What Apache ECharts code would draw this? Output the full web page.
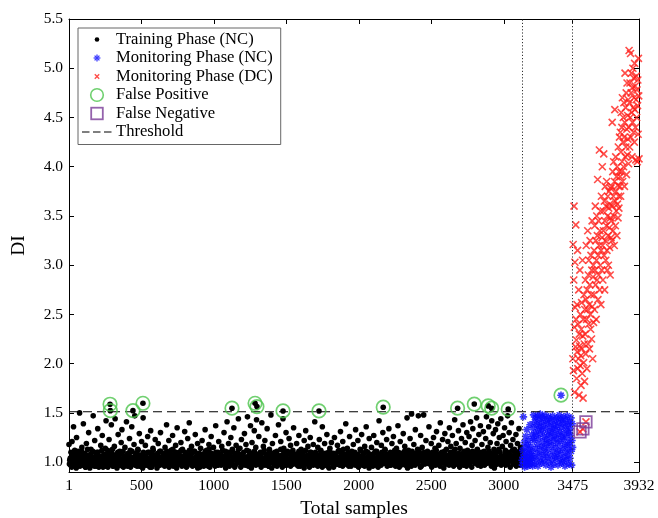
<!DOCTYPE html>
<html><head><meta charset="utf-8">
<script src="https://cdn.jsdelivr.net/npm/echarts@6.0.0/dist/echarts.min.js"></script>
<style>html,body{margin:0;padding:0;background:#fff}#c{width:658px;height:518px}</style>
</head><body><div id="c"></div>
<script>
// ---- axis ticks ----
const xTickValues = [1, 500, 1000, 1500, 2000, 2500, 3000, 3475, 3932];
const yTickValues = [1.0, 1.5, 2.0, 2.5, 3.0, 3.5, 4.0, 4.5, 5.0, 5.5];
const threshold = 1.512;
const phaseBoundaries = [3125, 3475];
// sample ranges of each phase (values below are estimated, sub-sampled readings)
const trainRange = [1, 3125];
const trainCoreRange = [4, 3122];
const monNcRange = [3126, 3474];
const monDcRange = [3476, 3932];

// Training phase (NC): scattered readings
const trainDI = [
1.18,1.02,0.97,1.05,1.21,1.00,1.36,0.99,1.08,1.03,1.25,0.96,1.11,1.04,1.50,1.01,0.98,1.15,1.06,1.39,1.00,1.09,0.95,1.19,1.03,
1.07,1.30,0.99,1.02,1.13,0.97,1.05,1.47,1.01,1.22,1.04,0.96,1.10,1.34,1.00,1.06,0.98,1.17,1.03,1.27,0.95,1.08,1.01,1.14,1.42,
1.02,1.12,0.99,1.23,1.05,1.00,1.38,1.09,0.96,1.03,1.16,1.44,1.01,1.07,0.97,1.28,1.04,1.11,0.99,1.20,1.33,1.02,0.95,1.06,1.15,
1.00,1.41,1.08,1.03,0.97,1.24,1.12,1.01,1.36,1.05,0.98,1.18,1.47,1.02,1.09,0.96,1.13,1.04,1.29,1.00,1.07,1.21,0.99,1.45,1.03,
1.06,1.17,1.01,0.97,1.26,1.04,1.10,0.95,1.32,1.02,1.08,1.14,0.99,1.03,1.23,1.00,1.06,0.96,1.19,1.05,1.11,1.30,1.01,0.98,1.09,
1.04,1.00,1.15,0.97,1.38,1.07,1.02,1.22,0.99,1.05,1.12,1.01,1.27,0.96,1.08,1.03,1.17,1.00,1.35,1.06,0.98,1.10,1.04,1.20,1.02,
1.13,0.99,1.05,1.31,1.01,1.08,0.96,1.24,1.03,1.40,1.00,1.07,1.16,0.98,1.04,1.11,1.02,1.28,0.97,1.06,1.19,1.01,1.09,0.95,1.14,
1.03,1.22,1.00,1.07,0.98,1.33,1.05,1.12,1.01,0.96,1.18,1.04,1.09,1.26,0.99,1.02,1.15,1.06,1.00,1.37,1.03,0.97,1.10,1.21,1.04,
1.01,1.08,1.16,0.98,1.05,1.30,1.02,1.11,0.96,1.41,1.04,1.19,1.00,1.07,1.25,0.99,1.13,1.03,1.35,1.06,0.97,1.17,1.02,1.09,1.44,
1.05,1.14,1.00,1.23,0.97,1.08,1.03,1.29,1.01,1.18,0.99,1.46,1.06,1.11,1.02,1.37,0.96,1.20,1.04,1.09,1.32,1.00,1.15,1.43,1.07,
1.02,1.26,0.98,1.10,1.05,1.40,1.01,1.16,1.03,1.22,0.99,1.08,1.34,1.04,0.96,1.13,1.06,1.48,1.00,1.19,1.02,1.09,0.97,1.27,1.05,
1.11,1.01,1.38,1.04,0.98,1.21,1.07,1.02,1.44,1.14,1.00,1.06,1.30,0.97,1.09,1.03,1.24,1.01,1.17,0.99,1.05,1.12,1.35,1.02,1.08,
1.00,1.19,1.04,0.96,1.27,1.06,1.01,1.13,1.03,1.09,0.98,1.22,1.05,1.32,1.00,1.07,1.16,0.97,1.02,1.25,1.10,1.04,0.99,1.18,1.06,
1.41,1.02,1.08,0.97,1.15,1.04,1.23,1.00,1.11,1.05,1.36,0.98,1.07,1.19,1.02,1.03,1.28,0.96,1.10,1.01,1.14,1.06,1.20,0.99,1.04,
1.09,1.25,1.01,1.05,0.98,1.17,1.03,1.12,1.00,1.31,1.06,0.97,1.21,1.04,1.08,1.02,1.39,0.99,1.14,1.05,1.01,1.26,1.07,0.96,1.11,
1.03,1.18,1.00,1.08,1.33,1.04,0.98,1.22,1.06,1.01,1.13,1.02,1.28,0.97,1.09,1.05,1.16,1.00,1.36,1.03,1.10,0.99,1.24,1.07,1.02,
1.15,0.98,1.05,1.27,1.01,1.11,1.04,1.20,0.96,1.08,1.42,1.03,1.00,1.17,1.06,1.30,1.02,0.99,1.12,1.07,1.23,1.01,1.04,1.34,0.97,
1.10,1.05,1.19,1.00,1.26,1.03,1.08,0.98,1.14,1.02,1.37,1.06,1.01,1.21,0.97,1.09,1.04,1.29,1.00,1.16,1.07,1.03,1.45,0.99,1.12,
1.05,1.24,1.01,1.49,1.08,0.98,1.18,1.03,1.33,1.06,1.00,1.13,1.47,1.02,1.09,1.27,0.96,1.15,1.04,1.48,1.07,1.01,1.22,0.99,1.11,
1.03,1.36,1.06,1.00,1.19,1.09,0.97,1.25,1.04,1.14,1.01,1.31,1.08,0.98,1.17,1.05,1.40,1.02,1.10,1.23,0.99,1.06,1.29,1.03,1.13,
1.00,1.21,1.07,1.35,1.02,1.16,0.98,1.27,1.05,1.11,1.43,1.03,1.19,1.01,1.08,1.32,0.97,1.14,1.06,1.24,1.02,1.38,1.10,1.00,1.20,
1.04,1.30,1.12,0.99,1.26,1.07,1.41,1.02,1.17,1.34,1.05,1.09,1.22,1.00,1.45,1.13,1.03,1.28,1.08,1.37,0.98,1.18,1.06,1.31,1.11,
1.02,1.24,1.46,1.07,1.15,1.36,1.00,1.20,1.09,1.42,1.04,1.29,1.13,0.97,1.33,1.06,1.19,1.39,1.01,1.25,1.10,1.44,1.05,1.16,1.27,
1.03,1.35,1.12,1.21,1.00,1.47,1.08,1.30,1.04,1.17,1.40,1.01,1.23,1.06,1.13,0.99,1.28,1.09,1.19,1.02,1.34,1.07,1.15,1.04,1.11
];

// Training phase (NC): dense core band readings
const trainCoreDI = [
0.98,1.04,1.10,0.95,1.01,1.07,0.97,1.12,1.03,0.94,1.06,0.99,1.09,1.02,0.96,1.05,1.11,1.00,0.97,1.08,1.03,0.95,1.06,1.01,1.13,
0.99,1.05,0.94,1.08,1.02,0.97,1.11,1.04,0.96,1.00,1.07,0.98,1.03,1.10,0.95,1.06,1.01,0.99,1.12,1.04,0.97,1.02,1.08,0.96,1.05,
1.01,0.95,1.09,1.03,0.98,1.06,1.00,1.13,0.96,1.04,0.99,1.07,1.02,0.94,1.10,1.05,0.97,1.01,1.08,1.03,0.96,1.11,1.00,1.06,0.98,
1.04,1.00,0.96,1.09,1.02,1.06,0.95,1.03,1.11,0.98,1.05,1.01,0.97,1.08,1.04,0.99,1.12,1.02,0.96,1.07,1.00,1.05,0.94,1.10,1.03,
0.97,1.06,1.02,0.99,1.10,1.04,0.96,1.01,1.08,0.95,1.05,1.12,1.00,0.98,1.07,1.03,0.94,1.09,1.01,1.05,0.97,1.11,1.02,0.99,1.06,
1.02,0.96,1.07,1.00,1.11,0.98,1.04,0.95,1.09,1.03,0.99,1.06,1.13,1.01,0.97,1.05,1.10,0.94,1.02,1.08,0.98,1.04,1.00,1.12,0.96,
1.06,1.01,0.97,1.10,1.03,0.95,1.07,1.00,1.05,1.12,0.98,1.02,1.09,0.96,1.04,1.00,1.11,0.97,1.06,1.03,0.94,1.08,1.01,0.99,1.05,
0.99,1.08,1.03,0.96,1.05,1.11,1.00,0.97,1.07,1.02,1.13,0.95,1.04,1.09,0.98,1.01,1.06,1.03,0.96,1.10,1.00,1.05,0.97,1.08,1.02,
1.05,0.97,1.02,1.12,0.99,1.06,1.03,0.94,1.08,1.00,1.04,1.10,0.96,1.07,1.01,0.98,1.11,1.03,1.05,0.95,1.09,1.02,0.99,1.06,1.13,
1.00,1.04,0.95,1.08,1.02,0.98,1.10,1.05,0.97,1.03,1.12,1.00,0.96,1.06,1.09,1.01,0.94,1.07,1.04,0.99,1.11,1.02,0.97,1.05,1.08,
1.03,0.98,1.06,1.01,0.95,1.09,1.04,1.00,1.12,0.97,1.05,1.02,0.99,1.08,0.96,1.11,1.03,1.06,0.94,1.01,1.07,0.98,1.10,1.04,1.00,
0.96,1.07,1.01,1.04,0.98,1.13,1.02,0.95,1.06,1.09,1.00,0.97,1.05,1.03,1.11,0.99,1.08,1.02,0.96,1.04,1.10,1.01,0.98,1.07,1.03,
1.08,1.00,0.97,1.05,1.11,1.02,0.96,1.09,1.04,0.99,1.06,0.94,1.03,1.12,1.01,0.98,1.07,1.05,0.95,1.10,1.02,1.00,1.06,0.97,1.04,
1.01,1.10,0.99,1.03,0.96,1.07,1.05,0.98,1.12,1.02,0.95,1.08,1.00,1.04,1.09,0.97,1.03,1.06,1.01,0.94,1.11,1.05,0.99,1.02,1.07,
0.95,1.03,1.08,1.00,1.06,0.98,1.11,1.02,0.97,1.05,1.09,1.01,0.96,1.13,1.04,1.00,0.98,1.07,1.03,1.10,0.96,1.05,1.01,1.08,0.99,
1.07,0.99,1.02,1.10,0.97,1.04,1.01,1.08,0.95,1.06,1.03,1.12,0.98,1.00,1.05,1.09,0.96,1.02,1.11,1.04,0.97,1.06,0.94,1.03,1.08,
1.02,1.06,0.96,1.00,1.09,1.03,0.98,1.11,1.05,0.95,1.07,1.01,1.04,0.97,1.10,1.02,1.06,0.99,1.13,1.00,1.04,0.96,1.08,1.03,0.98,
1.04,0.97,1.09,1.02,1.05,0.99,1.12,0.96,1.03,1.07,1.00,1.10,0.95,1.06,1.02,0.98,1.08,1.04,1.01,1.11,0.97,1.05,1.03,0.94,1.09,
0.98,1.03,1.07,0.96,1.11,1.01,1.05,1.00,0.97,1.09,1.04,0.99,1.06,1.12,1.02,0.95,1.08,1.03,1.00,1.05,1.10,0.98,1.04,1.07,1.01,
1.05,1.01,0.98,1.08,1.03,0.95,1.10,1.06,1.00,1.04,0.97,1.12,1.02,1.07,0.99,1.05,0.96,1.09,1.03,1.01,1.06,0.94,1.11,1.02,0.98,
1.00,1.07,1.03,0.97,1.05,1.10,0.99,1.02,1.08,0.96,1.04,1.13,1.01,0.98,1.06,1.03,1.09,0.95,1.05,1.00,1.07,1.02,0.97,1.11,1.04,
1.06,0.96,1.04,1.01,1.09,0.98,1.03,1.07,0.95,1.11,1.02,1.05,0.99,1.08,1.00,1.12,0.97,1.04,1.06,1.01,0.96,1.10,1.03,0.98,1.05,
0.97,1.09,1.02,1.05,0.99,1.04,1.11,1.00,1.06,0.96,1.03,1.08,1.01,0.94,1.07,1.10,1.02,0.98,1.05,1.13,1.00,1.04,0.97,1.06,1.02,
1.03,1.00,1.08,0.97,1.04,1.06,0.99,1.10,1.02,0.95,1.07,1.03,1.12,0.98,1.05,1.01,1.09,0.96,1.04,1.00,1.06,1.11,0.97,1.03,1.07
];

// Monitoring phase (NC)
const monNcDI = [
1.02,0.97,1.12,1.05,1.46,0.99,1.20,1.08,0.95,1.15,1.03,1.26,1.00,1.10,0.98,1.33,1.06,1.18,0.96,1.04,1.22,1.01,1.13,0.97,1.09,1.38,1.02,1.16,0.99,1.07,1.28,1.04,1.11,0.96,1.24,
1.35,1.48,1.05,1.22,1.41,0.98,1.30,1.14,1.45,1.02,1.27,1.38,1.09,1.47,1.18,0.96,1.33,1.24,1.43,1.06,1.36,1.12,1.49,1.01,1.29,
1.40,1.16,0.99,1.32,1.46,1.21,1.08,1.37,1.44,1.03,1.26,1.15,1.48,1.10,1.34,0.97,1.23,1.42,1.19,1.05,1.39,1.28,1.13,1.46,1.00,
1.31,1.20,1.44,1.07,1.36,1.25,0.95,1.41,1.17,1.30,1.02,1.47,1.11,1.34,1.22,0.98,1.38,1.27,1.06,1.43,1.15,1.33,1.04,1.24,1.45,
1.09,1.37,1.19,0.97,1.40,1.28,1.12,1.48,1.03,1.31,1.21,1.44,1.08,1.35,0.99,1.26,1.42,1.14,1.01,1.39,1.23,1.46,1.05,1.29,1.17,
0.96,1.36,1.10,1.43,1.25,1.02,1.32,1.47,1.18,1.07,1.38,1.13,0.98,1.30,1.41,1.20,1.04,1.34,1.27,1.45,1.11,0.97,1.22,1.39,1.15
];

// Monitoring phase (DC)
const monDcDI = [
2.05,3.21,1.93,2.85,3.60,2.37,1.71,3.03,2.57,2.17,3.41,2.45,
2.24,1.85,2.60,2.12,3.15,1.95,2.40,2.05,2.75,1.68,2.30,2.18,2.95,1.98,2.50,2.08,1.78,2.35,2.62,2.15,1.90,3.05,2.28,1.65,2.45,2.01,2.70,2.20,1.82,2.55,
2.30,2.85,2.10,2.65,3.20,2.45,1.95,2.75,2.55,3.35,2.20,2.90,2.40,3.05,2.60,2.15,2.80,3.25,2.50,2.35,3.10,2.70,2.25,2.95,3.45,2.58,2.05,2.88,3.00,2.42,
2.70,3.15,2.55,3.40,2.95,3.60,2.80,3.25,2.45,3.05,3.50,2.85,3.30,3.87,2.65,3.10,3.45,2.90,3.20,4.17,2.75,3.35,3.00,3.55,2.60,3.15,3.70,2.95,3.28,4.00,
3.20,2.85,3.55,3.35,4.13,3.10,3.65,2.75,3.45,3.80,3.25,3.05,3.60,3.40,3.85,3.15,2.95,3.50,3.70,3.30,3.00,3.58,3.75,3.38,3.18,3.62,2.90,3.48,3.78,3.28,
3.45,3.80,3.25,4.45,3.60,3.95,3.35,3.70,4.05,3.50,3.20,3.85,4.58,3.65,3.40,4.10,3.75,3.55,3.90,3.30,4.00,3.62,3.81,3.48,4.20,3.70,3.58,3.95,4.30,3.80,
3.90,4.35,3.70,4.15,4.55,3.95,4.40,4.05,4.70,3.85,4.25,4.50,4.00,4.65,4.30,3.80,4.45,4.95,4.10,4.60,4.20,4.75,3.92,4.38,4.85,4.12,4.52,4.28,4.68,4.03,
4.40,5.18,4.65,4.20,4.85,4.50,5.15,4.30,4.75,4.95,4.55,4.10,4.80,4.45,5.00,4.60,4.35,4.90,4.70,4.25,5.05,4.58,4.82,4.40,4.07,4.68,4.92,4.50,4.78,4.05,4.62,4.88,4.33,5.10,4.72,4.08
];

// False positives (training NC points above threshold) and one in monitoring NC
const fpTrainX = [284, 286, 442, 511, 1125, 1284, 1297, 1477, 1725, 2168, 2681, 2796, 2892, 2916, 3030];
const fpTrainY = [1.588, 1.523, 1.523, 1.598, 1.548, 1.598, 1.564, 1.52, 1.52, 1.558, 1.548, 1.59, 1.571, 1.548, 1.538];
const fpMonX = [3394];
const fpMonY = [1.68];
// False negatives (DC points below threshold)
const fnX = [3525, 3545, 3566];
const fnY = [1.307, 1.338, 1.409];

// ---------- build ----------
function spread(vals, range) {
  const n = vals.length;
  return vals.map((v, i) => [range[0] + i * (range[1] - range[0]) / (n - 1), v]);
}
function pairs(xs, ys) { return xs.map((x, i) => [x, ys[i]]); }

const trainData = spread(trainCoreDI, trainCoreRange).concat(spread(trainDI, trainRange), pairs(fpTrainX, fpTrainY));
const monNcData = spread(monNcDI, monNcRange).concat(pairs(fpMonX, fpMonY));
const monDcData = spread(monDcDI, monDcRange).concat(pairs(fnX, fnY));
const fpData = pairs(fpTrainX, fpTrainY).concat(pairs(fpMonX, fpMonY));
const fnData = pairs(fnX, fnY);

const FONT = 'Liberation Serif';
const BLUE = '#0a0aff', RED = '#ff1f1a', GREEN = '#4cc44c', PURPLE = '#7a3b98';

function svgIcon(inner) {
  return 'image://data:image/svg+xml;charset=utf-8,' + encodeURIComponent(
    "<svg xmlns='http://www.w3.org/2000/svg' width='30' height='16' viewBox='0 0 30 16'>" + inner + "</svg>");
}
const icons = {
  train: svgIcon("<circle cx='15' cy='8' r='2.3' fill='#000'/>"),
  monNc: svgIcon("<g stroke='" + BLUE + "' stroke-width='1.3'><line x1='15' y1='4.6' x2='15' y2='11.4'/><line x1='11.6' y1='8' x2='18.4' y2='8'/><line x1='12.6' y1='5.6' x2='17.4' y2='10.4'/><line x1='17.4' y1='5.6' x2='12.6' y2='10.4'/></g>"),
  monDc: svgIcon("<g stroke='" + RED + "' stroke-width='1.3'><line x1='12.8' y1='5.8' x2='17.2' y2='10.2'/><line x1='17.2' y1='5.8' x2='12.8' y2='10.2'/></g>"),
  fp: svgIcon("<circle cx='15' cy='8' r='6.3' fill='none' stroke='" + GREEN + "' stroke-width='1.6'/>"),
  fn: svgIcon("<rect x='9.2' y='2.2' width='11.6' height='11.6' fill='none' stroke='" + PURPLE + "' stroke-width='1.8'/>"),
  thr: svgIcon("<line x1='0' y1='8' x2='30' y2='8' stroke='#000' stroke-width='1.2' stroke-dasharray='7.5 3.5'/>")
};

const chart = echarts.init(document.getElementById('c'), null, { renderer: 'canvas' });
const axisLineStyle = { show: true, lineStyle: { color: '#000', width: 1 } };
chart.setOption({
  animation: false,
  backgroundColor: '#fff',
  textStyle: { fontFamily: FONT },
  grid: { left: 69, right: 19, top: 19, bottom: 46, containLabel: false, outerBoundsMode: 'none' },
  legend: {
    orient: 'vertical', left: 78, top: 28,
    padding: [3, 8, 4, 4],
    itemWidth: 30, itemHeight: 16, itemGap: 1.5,
    backgroundColor: '#fff', borderColor: '#666', borderWidth: 1, borderRadius: 0,
    selectedMode: false,
    textStyle: { fontFamily: FONT, fontSize: 16.6, lineHeight: 16, color: '#000', padding: [0, 0, 0, -1] },
    data: [
      { name: 'Training Phase (NC)', icon: icons.train },
      { name: 'Monitoring Phase (NC)', icon: icons.monNc },
      { name: 'Monitoring Phase (DC)', icon: icons.monDc },
      { name: 'False Positive', icon: icons.fp },
      { name: 'False Negative', icon: icons.fn },
      { name: 'Threshold', icon: icons.thr }
    ]
  },
  xAxis: [{
    type: 'value', min: 1, max: 3932, position: 'bottom',
    axisLine: axisLineStyle,
    axisTick: { show: true, inside: true, length: 5, customValues: xTickValues, lineStyle: { color: '#000' } },
    axisLabel: { show: true, customValues: xTickValues, showMinLabel: true, showMaxLabel: true, color: '#000', fontSize: 15.5, fontFamily: FONT, margin: 6, formatter: v => String(Math.round(v)) },
    splitLine: { show: false },
    name: 'Total samples', nameLocation: 'middle', nameGap: 27,
    nameTextStyle: { fontFamily: FONT, fontSize: 19.5, color: '#000' }
  }, {
    type: 'value', min: 1, max: 3932, position: 'top',
    axisLine: axisLineStyle,
    axisTick: { show: true, inside: true, length: 5, customValues: xTickValues, lineStyle: { color: '#000' } },
    axisLabel: { show: false }, splitLine: { show: false }
  }],
  yAxis: [{
    type: 'value', min: 0.9, max: 5.5, position: 'left',
    axisLine: axisLineStyle,
    axisTick: { show: true, inside: true, length: 5, customValues: yTickValues, lineStyle: { color: '#000' } },
    axisLabel: { show: true, customValues: yTickValues, showMinLabel: true, showMaxLabel: true, color: '#000', fontSize: 15.5, fontFamily: FONT, margin: 6, formatter: v => v.toFixed(1) },
    splitLine: { show: false },
    name: 'DI', nameLocation: 'middle', nameGap: 40, nameRotate: 90,
    nameTextStyle: { fontFamily: FONT, fontSize: 19.5, color: '#000' }
  }, {
    type: 'value', min: 0.9, max: 5.5, position: 'right',
    axisLine: axisLineStyle,
    axisTick: { show: true, inside: true, length: 5, customValues: yTickValues, lineStyle: { color: '#000' } },
    axisLabel: { show: false }, splitLine: { show: false }
  }],
  series: [
    {
      name: 'Training Phase (NC)', type: 'scatter', data: trainData,
      symbol: 'circle', symbolSize: 5.6, itemStyle: { color: '#000', opacity: 1 }, z: 2
    },
    {
      name: 'Monitoring Phase (NC)', type: 'scatter', data: monNcData,
      symbol: 'path://M5,0L5,10M0,5L10,5M1.5,1.5L8.5,8.5M8.5,1.5L1.5,8.5', symbolSize: 7.5,
      itemStyle: { color: 'none', borderColor: BLUE, borderWidth: 1.6 }, z: 2
    },
    {
      name: 'Monitoring Phase (DC)', type: 'scatter', data: monDcData,
      symbol: 'path://M0,0L10,10M10,0L0,10', symbolSize: 7,
      itemStyle: { color: 'none', borderColor: RED, borderWidth: 1.6 }, z: 2
    },
    {
      name: 'False Positive', type: 'scatter', data: fpData,
      symbol: 'circle', symbolSize: 13.5,
      itemStyle: { color: 'none', borderColor: GREEN, borderWidth: 1.7 }, z: 4
    },
    {
      name: 'False Negative', type: 'scatter', data: fnData,
      symbol: 'rect', symbolSize: 11.5,
      itemStyle: { color: 'none', borderColor: PURPLE, borderWidth: 1.8 }, z: 4
    },
    {
      name: 'Threshold', type: 'line', data: [[1, threshold], [3932, threshold]],
      symbol: 'none', lineStyle: { color: '#000', width: 1.2, type: [9, 5] }, z: 3,
      markLine: {
        silent: true, symbol: ['none', 'none'], label: { show: false },
        lineStyle: { color: '#333', width: 1, type: [1.2, 2] },
        data: phaseBoundaries.map(v => ({ xAxis: v }))
      }
    }
  ]
});
</script>
</body></html>
